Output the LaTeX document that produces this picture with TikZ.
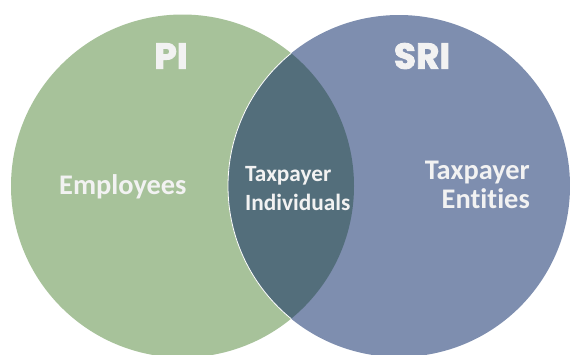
\documentclass[tikz,border=0pt]{standalone}
\usepackage{fontspec}
\setmainfont{Carlito}[Ligatures=NoCommon]
\newfontfamily\headfont{Poppins}[BoldFeatures={FakeBold=2.5}]
\begin{document}
\begin{tikzpicture}[x=1pt,y=-1pt]
  \definecolor{pigreen}{HTML}{A7C29A}
  \definecolor{sriblue}{HTML}{7E8EAF}
  \definecolor{overlap}{HTML}{536E7B}
  \definecolor{labeltext}{HTML}{F2F2F2}
  \tikzset{
    settitle/.style={text=labeltext, font=\headfont\bfseries\fontsize{36}{36}\selectfont, inner sep=0pt},
    biglabel/.style={text=labeltext, font=\bfseries\fontsize{28.4}{29}\selectfont, inner sep=0pt},
    smalllabel/.style={text=labeltext, font=\bfseries\fontsize{23.3}{29}\selectfont, inner sep=0pt, align=left},
  }
  \useasboundingbox (0,0) rectangle (570,354);
  \clip (0,0) rectangle (570,354);

  % the two sets
  \coordinate (cPI) at (182.5,186);
  \coordinate (cSRI) at (399,186);
  \fill[pigreen] (cPI) circle[radius=171.5];
  \fill[sriblue] (cSRI) circle[radius=171];

  % intersection of the two sets, with a fine light rim on its left side
  \begin{scope}
    \clip (cPI) circle[radius=171.5];
    \fill[overlap] (cSRI) circle[radius=171];
    \draw[white, line width=0.8pt] (cSRI) circle[radius=171];
  \end{scope}

  % set titles
  \node[settitle] (pi) at (171,56) {PI};
  \node[settitle] (sri) at (422,56) {SRI};

  % region labels (base anchor = baseline of the last line)
  \node[biglabel, anchor=base west] (emp) at (59,194.5) {Employees};
  \node[smalllabel, anchor=base west] (ind) at (245,210.7) {Taxpayer\\Individuals};
  \node[biglabel, anchor=base east, align=right] (ent) at (530,208.3) {Taxpayer\\Entities};
\end{tikzpicture}
\end{document}
